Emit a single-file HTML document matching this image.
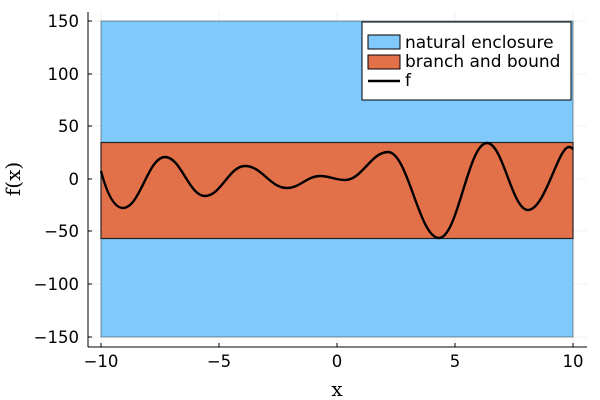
<!DOCTYPE html>
<html><head><meta charset="utf-8"><style>body{margin:0;background:#fff}svg{display:block}</style></head><body>
<svg width="600" height="400" xmlns="http://www.w3.org/2000/svg" font-family="DejaVu Sans, sans-serif">
<rect width="600" height="400" fill="#fff"/>
<g stroke="#000" stroke-opacity="0.1" stroke-width="0.6">
<line x1="101" y1="12" x2="101" y2="347"/><line x1="219" y1="12" x2="219" y2="347"/><line x1="337" y1="12" x2="337" y2="347"/><line x1="455" y1="12" x2="455" y2="347"/><line x1="573" y1="12" x2="573" y2="347"/>
<line x1="88" y1="21" x2="587" y2="21"/><line x1="88" y1="74" x2="587" y2="74"/><line x1="88" y1="126" x2="587" y2="126"/><line x1="88" y1="179" x2="587" y2="179"/><line x1="88" y1="231" x2="587" y2="231"/><line x1="88" y1="284" x2="587" y2="284"/><line x1="88" y1="337" x2="587" y2="337"/>
</g>
<rect x="101" y="21" width="472" height="316" fill="#7fc9fb" stroke="#333" stroke-opacity="0.5" stroke-width="1"/>
<rect x="101" y="142.5" width="472" height="96" fill="#e2714a" stroke="#222" stroke-width="1.2"/>
<path fill="none" stroke="#000" stroke-width="2.4" d="M101,171 C106,190 113,208 123,208 C140,208 148,157 165,157 C181,157 189,196 205,196 C221,196 229,166 245,166 C262,166 270,188 287,188 C300,188 307,176 320,176 C330,176 335,180 345,180 C362,180 371,152 388,152 C408,152 419,238 439,238 C458,238 468,143 487,143 C503,143 512,210 528,210 C545,210 558,147 569,147 C571,147 572,148 573,149"/>
<g stroke="#000" stroke-width="1">
<line x1="88" y1="12" x2="88" y2="347"/><line x1="88" y1="347" x2="587" y2="347"/>
</g>
<g stroke="#000" stroke-width="1">
<line x1="101" y1="347" x2="101" y2="343"/><line x1="219" y1="347" x2="219" y2="343"/><line x1="337" y1="347" x2="337" y2="343"/><line x1="455" y1="347" x2="455" y2="343"/><line x1="573" y1="347" x2="573" y2="343"/>
<line x1="88" y1="21" x2="92" y2="21"/><line x1="88" y1="74" x2="92" y2="74"/><line x1="88" y1="126" x2="92" y2="126"/><line x1="88" y1="179" x2="92" y2="179"/><line x1="88" y1="231" x2="92" y2="231"/><line x1="88" y1="284" x2="92" y2="284"/><line x1="88" y1="337" x2="92" y2="337"/>
</g>
<g font-size="16.5" fill="#000" text-anchor="middle">
<text x="101" y="367">−10</text><text x="219" y="367">−5</text><text x="337" y="367">0</text><text x="455" y="367">5</text><text x="573" y="367">10</text>
</g>
<g font-size="16.5" fill="#000" text-anchor="end">
<text x="79" y="27">150</text><text x="79" y="80">100</text><text x="79" y="132">50</text><text x="79" y="185">0</text><text x="79" y="237">−50</text><text x="79" y="290">−100</text><text x="79" y="343">−150</text>
</g>
<text x="337" y="396" font-size="20" font-family="DejaVu Serif, serif" text-anchor="middle">x</text>
<text transform="translate(20,179) rotate(-90)" font-size="20" font-family="DejaVu Serif, serif" text-anchor="middle">f(x)</text>
<rect x="362" y="22" width="209" height="78" fill="#fff" stroke="#000" stroke-width="1"/>
<rect x="368" y="35" width="32" height="14" fill="#7fc9fb" stroke="#000" stroke-width="1"/>
<rect x="368" y="55" width="32" height="14" fill="#e2714a" stroke="#000" stroke-width="1"/>
<line x1="368" y1="81" x2="400" y2="81" stroke="#000" stroke-width="2.4"/>
<g font-size="17" fill="#000">
<text x="405" y="48">natural enclosure</text><text x="405" y="67">branch and bound</text><text x="405" y="86">f</text>
</g>
</svg>
</body></html>
